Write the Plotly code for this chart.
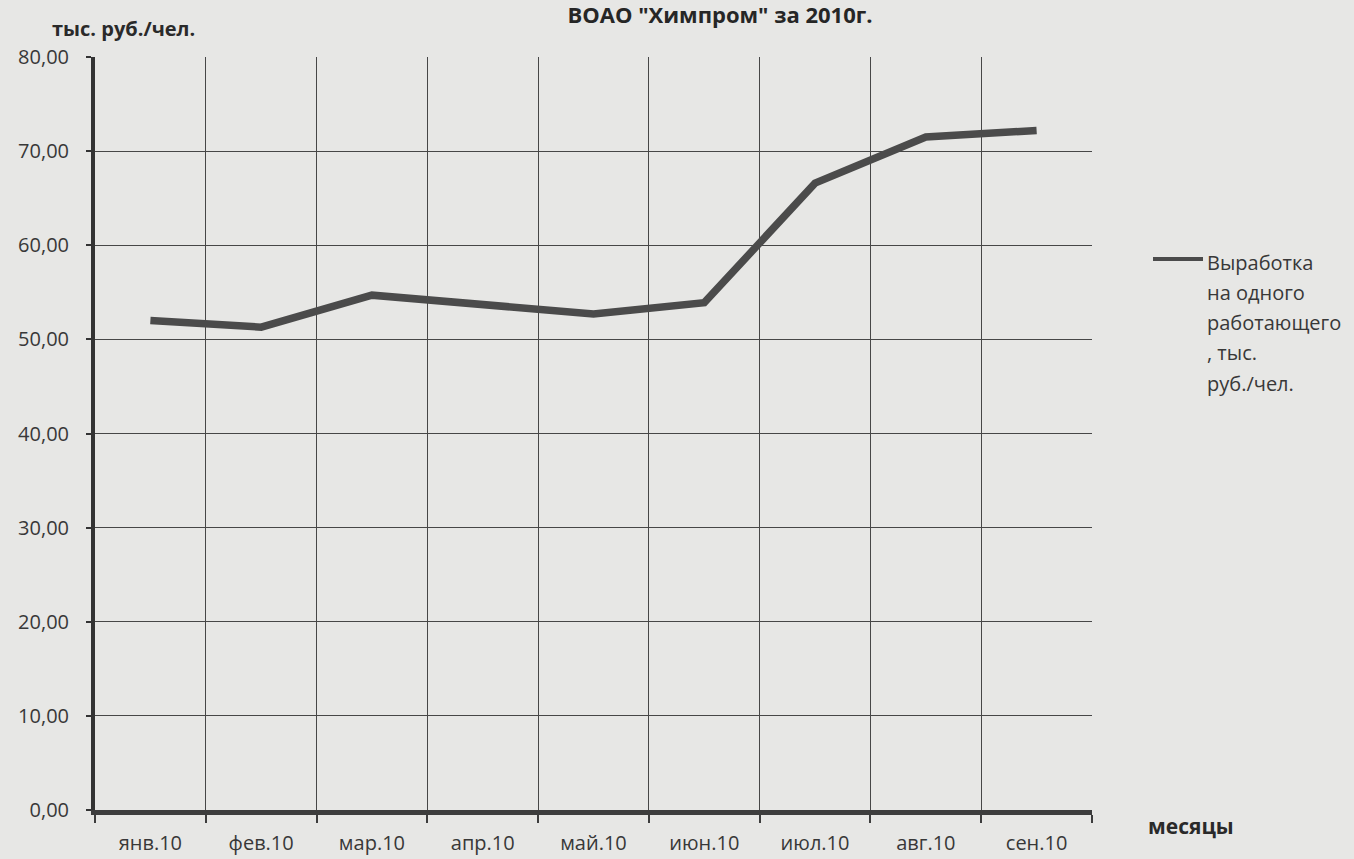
import plotly.graph_objects as go

months = ["янв.10", "фев.10", "мар.10", "апр.10", "май.10", "июн.10", "июл.10", "авг.10", "сен.10"]
output_per_worker = [52.0, 51.3, 54.7, 53.7, 52.7, 53.9, 66.6, 71.5, 72.2]
y_ticks = [0, 10, 20, 30, 40, 50, 60, 70, 80]
series_name = "Выработка на одного работающего, тыс. руб./чел."
legend_lines = ["Выработка", "на одного", "работающего", ", тыс.", "руб./чел."]

FONT = "Open Sans, Noto Sans, sans-serif"
TXT = "#383838"
LINE = "#4b4b4b"
BG = "#e7e7e5"

W, H = 1354, 859
L, R, T, B = 95, 262, 57, 49
PH = H - T - B


def py(pix):
    return 1 - (pix - T) / PH


def px(pix):
    return (pix - L) / (W - L - R)


fig = go.Figure()
fig.add_trace(go.Scatter(
    x=months, y=output_per_worker, mode="lines",
    line=dict(color=LINE, width=7.5), name=series_name, showlegend=False,
))

fig.update_layout(
    width=W, height=H,
    paper_bgcolor=BG, plot_bgcolor=BG,
    margin=dict(l=L, r=R, t=T, b=B, autoexpand=False),
    separators=", ",
    font=dict(family=FONT, color=TXT, size=20),
    title=dict(text="<b>ВОАО \"Химпром\" за 2010г.</b>", x=720 / W, xanchor="center",
               y=1 - 8 / H, yanchor="top", yref="container",
               font=dict(size=22, color="#262626")),
    xaxis=dict(type="category", range=[-0.5, 8.5], tickson="boundaries", automargin=False,
               showgrid=True, gridcolor="#474747", gridwidth=1.3,
               showline=True, linecolor="#3d3d3d", linewidth=5,
               ticks="outside", ticklen=8, tickwidth=2, tickcolor="#3d3d3d",
               ticklabelstandoff=11, tickfont=dict(size=20, color=TXT)),
    yaxis=dict(range=[0, 80], tickvals=y_ticks, tickformat=".2f", automargin=False,
               showgrid=True, gridcolor="#474747", gridwidth=1.3,
               showline=True, linecolor="#333", linewidth=4,
               ticks="outside", ticklen=5, tickwidth=2, tickcolor="#333",
               ticklabelstandoff=13, zeroline=False,
               tickfont=dict(size=20, color=TXT)),
)

fig.add_annotation(text="<b>тыс. руб./чел.</b>", xref="paper", yref="paper",
                   x=px(50), y=py(28), xanchor="left", yanchor="middle",
                   showarrow=False, font=dict(size=20, color="#2a2a2a"))
fig.add_annotation(text="<b>месяцы</b>", xref="paper", yref="paper",
                   x=px(1146), y=py(826), xanchor="left", yanchor="middle",
                   showarrow=False, font=dict(size=21, color="#2a2a2a"))

# legend drawn to match the reference (symbol beside the first line)
fig.add_shape(type="line", xref="paper", yref="paper",
              x0=px(1153), x1=px(1203), y0=py(259), y1=py(259),
              line=dict(color=LINE, width=4))
for i, t in enumerate(legend_lines):
    fig.add_annotation(text=t, xref="paper", yref="paper",
                       x=px(1205), y=py(262 + i * 30.3), xanchor="left", yanchor="middle",
                       showarrow=False, font=dict(size=20, color=TXT))

fig.write_html("out.html", config={"displayModeBar": False},
               post_script="document.body.style.margin='0';")
